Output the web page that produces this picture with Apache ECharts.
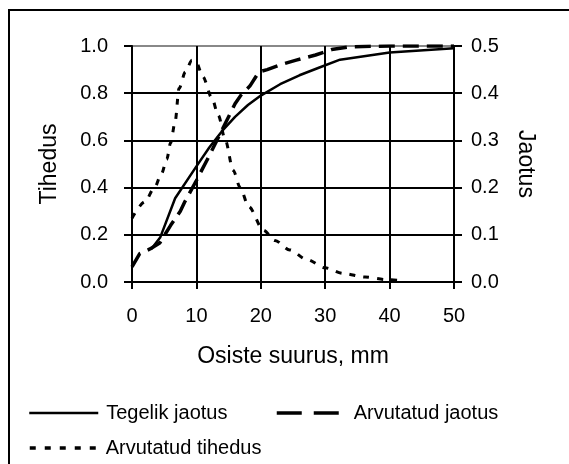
<!DOCTYPE html>
<html>
<head>
<meta charset="utf-8">
<script src="https://cdn.jsdelivr.net/npm/echarts@6/dist/echarts.min.js"></script>
<style>
  html, body { margin: 0; padding: 0; background: #fff; }
  #chart { width: 569px; height: 464px; }
</style>
</head>
<body>
<div id="chart"></div>
<script>
// Osiste suurus (mm) ja kumulatiivne jaotus
const tegelikX = [3, 4.4, 6.7, 10, 12, 14, 16, 18, 20, 23, 26, 29, 32.3, 40, 50];
const tegelikY = [0.14, 0.19, 0.355, 0.49, 0.57, 0.64, 0.70, 0.75, 0.79, 0.838, 0.876, 0.908, 0.942, 0.972, 0.99];

const arvJaotusX = [0, 1.2, 2.8, 4.3, 6, 7.5, 8.2, 10, 12, 14, 16, 17, 18.3, 19.7, 21, 23, 25.5, 28.5, 31, 34, 40, 50];
const arvJaotusY = [0.064, 0.12, 0.14, 0.165, 0.24, 0.30, 0.34, 0.43, 0.535, 0.645, 0.755, 0.795, 0.83, 0.89, 0.90, 0.92, 0.94, 0.962, 0.985, 0.997, 1.0, 1.0];

// Arvutatud tihedus (parem telg)
const tihedusX = [0, 2, 3.5, 4.6, 5.4, 6, 6.7, 7.3, 8.3, 9.3, 10, 11, 12.4, 13.4, 14.5, 15.7, 16.8, 18.1, 20.4, 22.2, 24.5, 27.1, 30, 32.8, 36.2, 39.5, 42];
const tihedusY = [0.135, 0.17, 0.20, 0.23, 0.26, 0.295, 0.34, 0.41, 0.445, 0.47, 0.465, 0.435, 0.39, 0.353, 0.30, 0.237, 0.20, 0.16, 0.11, 0.088, 0.068, 0.048, 0.03, 0.018, 0.0105, 0.005, 0.003];

const leftTicks = ['0.0', '0.2', '0.4', '0.6', '0.8', '1.0'];
const rightTicks = ['0.0', '0.1', '0.2', '0.3', '0.4', '0.5'];

const pairs = (xs, ys) => xs.map((x, i) => [x, ys[i]]);

const FONT = 'Liberation Sans, Arial, sans-serif';
const FS = 20;      // tick labels and legend
const FS_NAME = 23; // axis titles
const chart = echarts.init(document.getElementById('chart'), null, { renderer: 'canvas' });

const legendBase = {
  orient: 'horizontal',
  padding: 0,
  itemHeight: 14,
  selectedMode: false,
  itemStyle: { color: 'rgba(0,0,0,0)', borderWidth: 0, opacity: 0 },
  textStyle: { fontFamily: FONT, fontSize: FS, color: '#000' }
};

chart.setOption({
  backgroundColor: '#fff',
  animation: false,
  grid: { left: 132, right: 115, top: 46, bottom: 182 },
  xAxis: {
    type: 'value', min: 0, max: 50, interval: 10,
    name: 'Osiste suurus, mm', nameLocation: 'middle', nameGap: 63,
    nameTextStyle: { fontFamily: FONT, fontSize: FS_NAME, color: '#000' },
    axisLine: { lineStyle: { color: '#000', width: 2 } },
    axisTick: { show: true, length: 7, lineStyle: { color: '#000', width: 2 } },
    axisLabel: { margin: 24, fontFamily: FONT, fontSize: FS, color: '#000' },
    splitLine: { show: true, lineStyle: { color: '#000', width: 2 } }
  },
  yAxis: [
    {
      type: 'value', min: 0, max: 1, interval: 0.2, position: 'left',
      name: 'Tihedus', nameLocation: 'middle', nameGap: 71,
      nameTextStyle: { fontFamily: FONT, fontSize: FS_NAME, color: '#000' },
      axisLine: { show: true, lineStyle: { color: '#000', width: 2 } },
      axisTick: { show: true, length: 8, lineStyle: { color: '#000', width: 2 } },
      axisLabel: { margin: 24, fontFamily: FONT, fontSize: FS, color: '#000',
        formatter: (v) => leftTicks[Math.round(v / 0.2)] },
      splitLine: { show: true, lineStyle: { color: ['#000', '#000', '#000', '#000', '#000', '#888'], width: 2 } }
    },
    {
      type: 'value', min: 0, max: 0.5, interval: 0.1, position: 'right',
      name: 'Jaotus', nameLocation: 'middle', nameGap: 60, nameRotate: -90,
      nameTextStyle: { fontFamily: FONT, fontSize: FS_NAME, color: '#000' },
      axisLine: { show: true, lineStyle: { color: '#000', width: 2 } },
      axisTick: { show: true, length: 8, lineStyle: { color: '#000', width: 2 } },
      axisLabel: { margin: 17, fontFamily: FONT, fontSize: FS, color: '#000',
        formatter: (v) => rightTicks[Math.round(v / 0.1)] },
      splitLine: { show: false }
    }
  ],
  legend: [
    Object.assign({}, legendBase, {
      data: ['Tegelik jaotus'], left: 28, top: 403, itemWidth: 69,
      lineStyle: { type: 'solid', width: 2.5, color: '#000' },
      textStyle: { fontFamily: FONT, fontSize: FS, color: '#000', padding: [0, 0, 0, 3] }
    }),
    Object.assign({}, legendBase, {
      data: ['Arvutatud jaotus'], left: 275, top: 403, itemWidth: 72,
      lineStyle: { type: [25, 12], width: 3.5, color: '#000' }
    }),
    Object.assign({}, legendBase, {
      data: ['Arvutatud tihedus'], left: 28, top: 438, itemWidth: 71,
      lineStyle: { type: [6, 9], width: 3.5, color: '#000' }
    })
  ],
  graphic: [
    {
      type: 'polyline', silent: true,
      shape: { points: [[9, 464], [9, 10], [569, 10]] },
      style: { stroke: '#000', lineWidth: 2, fill: null }
    }
  ],
  series: [
    {
      name: 'Tegelik jaotus', type: 'line', yAxisIndex: 0,
      data: pairs(tegelikX, tegelikY), symbol: 'none',
      smooth: false,
      lineStyle: { color: '#000', width: 2.5, type: 'solid', join: 'round' },
      itemStyle: { color: '#000' }, z: 3
    },
    {
      name: 'Arvutatud jaotus', type: 'line', yAxisIndex: 0,
      data: pairs(arvJaotusX, arvJaotusY), symbol: 'none',
      lineStyle: { color: '#000', width: 3.5, type: [16, 8] },
      itemStyle: { color: '#000' }, z: 3
    },
    {
      name: 'Arvutatud tihedus', type: 'line', yAxisIndex: 1,
      data: pairs(tihedusX, tihedusY), symbol: 'none',
      smooth: 0.3, smoothMonotone: 'x',
      lineStyle: { color: '#000', width: 3, type: [6, 8] },
      itemStyle: { color: '#000' }, z: 3
    }
  ]
});
</script>
</body>
</html>
